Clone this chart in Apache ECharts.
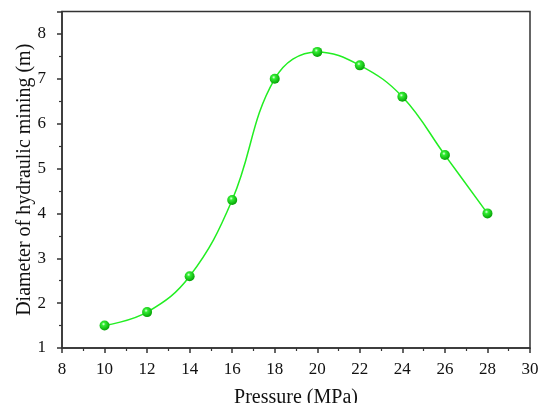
<!DOCTYPE html>
<html><head><meta charset="utf-8">
<script src="https://cdn.jsdelivr.net/npm/echarts@6/dist/echarts.min.js"></script>
<style>html,body{margin:0;padding:0;background:#fff}#c{width:547px;height:403px}</style>
</head><body><div id="c"></div>
<script>
var pressure = [10, 12, 14, 16, 18, 20, 22, 24, 26, 28];
var diameter = [1.5, 1.8, 2.6, 4.3, 7.0, 7.6, 7.3, 6.6, 5.3, 4.0];
var xTitle = 'Pressure (MPa)';
var yTitle = 'Diameter of hydraulic mining (m)';

var font = 'Liberation Serif';
var axisCol = '#333';
var chart = echarts.init(document.getElementById('c'));
var pts = pressure.map(function(p, i){ return [p, diameter[i]]; });
var ball = new echarts.graphic.RadialGradient(0.4, 0.35, 0.7, [
  {offset: 0, color: '#e8ffe8'},
  {offset: 0.25, color: '#33ee33'},
  {offset: 1, color: '#009900'}
]);
chart.setOption({
  animation: false,
  grid: {left: 62, right: 17, top: 11.5, bottom: 55, outerBoundsMode: 'none', containLabel: false,
    show: true, borderColor: axisCol, borderWidth: 1.5, backgroundColor: 'transparent'},
  xAxis: {
    type: 'value', min: 8, max: 30, interval: 2,
    name: xTitle, nameLocation: 'middle', nameGap: 40, nameMoveOverlap: false,
    nameTextStyle: {fontFamily: font, fontSize: 20, color: '#111'},
    axisLine: {show: true, lineStyle: {color: axisCol, width: 1.5}},
    axisTick: {show: true, inside: false, length: 5, lineStyle: {color: axisCol, width: 1.5}},
    minorTick: {show: true, splitNumber: 2, length: 3, lineStyle: {color: axisCol, width: 1.2}},
    axisLabel: {fontFamily: font, fontSize: 17, color: '#111', margin: 13},
    splitLine: {show: false}
  },
  yAxis: {
    type: 'value', min: 1, max: 8.5, interval: 1,
    name: yTitle, nameLocation: 'middle', nameGap: 27, nameRotate: 90, nameMoveOverlap: false,
    nameTextStyle: {fontFamily: font, fontSize: 20, color: '#111'},
    axisLine: {show: true, lineStyle: {color: axisCol, width: 1.5}},
    axisTick: {show: true, inside: false, length: 5, lineStyle: {color: axisCol, width: 1.5}},
    minorTick: {show: true, splitNumber: 2, length: 3, lineStyle: {color: axisCol, width: 1.2}},
    axisLabel: {fontFamily: font, fontSize: 17, color: '#111', margin: 16,
      formatter: function(v){ return v % 1 === 0 ? String(v) : ''; }},
    splitLine: {show: false}
  },
  series: [{
    type: 'line', data: pts, smooth: 0.4,
    lineStyle: {color: '#22ee22', width: 1.5},
    symbol: 'circle', symbolSize: 10,
    itemStyle: {color: ball, borderWidth: 0}
  }]
});
</script></body></html>
